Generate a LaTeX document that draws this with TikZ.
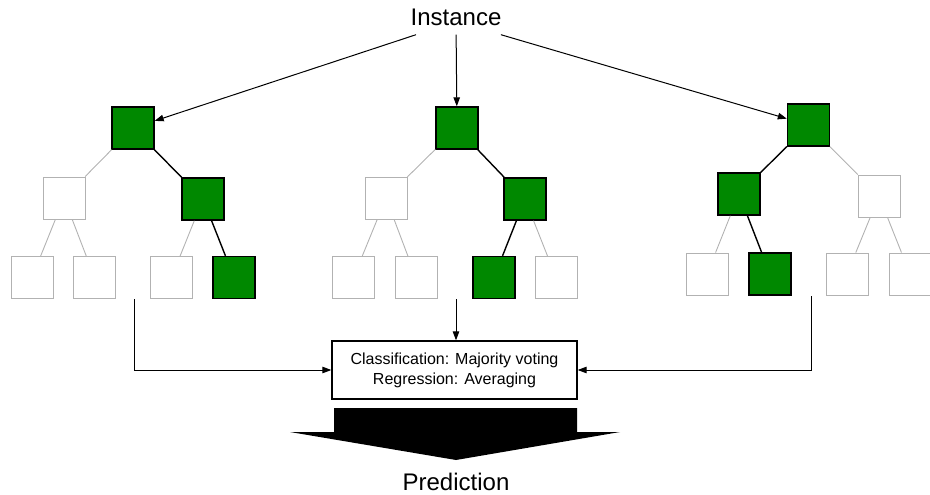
\documentclass[tikz,border=0pt]{standalone}
\usepackage{fontspec}
\setmainfont{Liberation Sans}
\usetikzlibrary{arrows.meta}
\definecolor{leafgreen}{RGB}{0,136,0}

\begin{document}
\begin{tikzpicture}[x=1pt,y=-1pt,>={Triangle[length=9pt,width=6.5pt]},
  every node/.style={inner sep=0pt},
  tbox/.style={draw=gray!60,line width=0.9pt,fill=white,minimum size=42pt},
  gbox/.style={draw=black,line width=1.4pt,fill=leafgreen,minimum size=42pt},
  tedge/.style={draw=gray!60,line width=0.9pt},
  pedge/.style={draw=black,line width=1.4pt},
  big/.style={font=\fontsize{24}{28}\selectfont}]
\useasboundingbox (0,0) rectangle (930,495);
\node[big,text height=17pt,text depth=9pt] (inst) at (456,21.5) {Instance};

% first tree
\node[gbox] (a0) at (133,128) {};
\node[tbox] (a1) at (64,198) {};
\node[gbox] (a2) at (203,199) {};
\node[tbox] (a3) at (32,277.5) {};
\node[tbox] (a4) at (94.5,277.5) {};
\node[tbox] (a5) at (171.5,277.5) {};
\node[gbox] (a6) at (234,277.5) {};
\draw[tedge] (a0) -- (a1);
\draw[tedge] (a1) -- (a3);
\draw[tedge] (a1) -- (a4);
\draw[tedge] (a2) -- (a5);
\draw[pedge] (a0) -- (a2);
\draw[pedge] (a2) -- (a6);

% second tree
\node[gbox] (b0) at (457,128) {};
\node[tbox] (b1) at (386,198) {};
\node[gbox] (b2) at (525,199) {};
\node[tbox] (b3) at (353.5,277.5) {};
\node[tbox] (b4) at (416,277.5) {};
\node[gbox] (b5) at (494,277.5) {};
\node[tbox] (b6) at (556,277.5) {};
\draw[tedge] (b0) -- (b1);
\draw[tedge] (b1) -- (b3);
\draw[tedge] (b1) -- (b4);
\draw[tedge] (b2) -- (b6);
\draw[pedge] (b0) -- (b2);
\draw[pedge] (b2) -- (b5);

% third tree
\node[gbox] (c0) at (808.5,125) {};
\node[gbox] (c1) at (739,194) {};
\node[tbox] (c2) at (879,196) {};
\node[tbox] (c3) at (707,274) {};
\node[gbox] (c4) at (770,274) {};
\node[tbox] (c5) at (847,274) {};
\node[tbox] (c6) at (910,274) {};
\draw[tedge] (c0) -- (c2);
\draw[tedge] (c1) -- (c3);
\draw[tedge] (c2) -- (c5);
\draw[tedge] (c2) -- (c6);
\draw[pedge] (c0) -- (c1);
\draw[pedge] (c1) -- (c4);

% instance to the roots
\draw[line width=1pt,->] (inst) -- (a0);
\draw[line width=1pt,->] (inst) -- (b0);
\draw[line width=1pt,->] (inst) -- (c0);

% votes
\node[draw,line width=1.3pt,minimum width=245pt,minimum height=58pt,align=center,
  font=\fontsize{16}{20}\selectfont] (vote) at (454.5,370)
  {Classification: Majority voting\\Regression: Averaging};
\coordinate (ta) at (134,299);
\coordinate (tb) at (456,299);
\coordinate (tc) at (811,296);
\draw[line width=1pt,->] (ta) |- (vote.west);
\draw[line width=1pt,->] (tb) -- (tb |- vote.north);
\draw[line width=1pt,->] (tc) |- (vote.east);

\fill (334,408) -- (577,408) -- (577,432) -- (620,432) -- (456,460)
  -- (290,432) -- (334,432) -- cycle;
\node[big] (pred) at (456,482) {Prediction};
\end{tikzpicture}
\end{document}
